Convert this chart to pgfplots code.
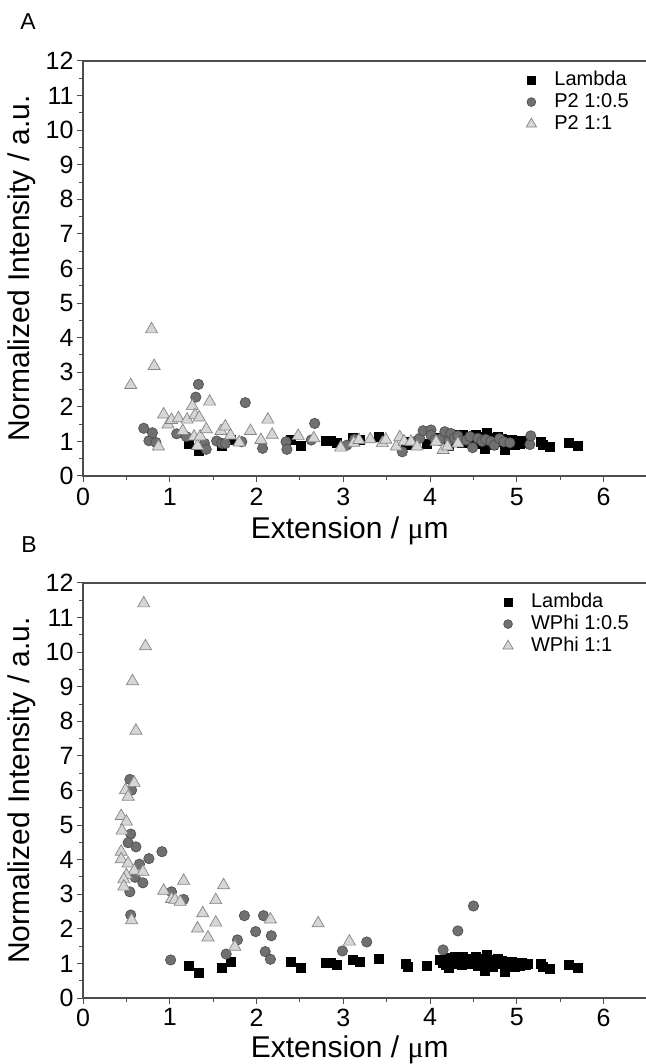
\documentclass[border=0pt]{standalone}
\usepackage{fontspec}
\setmainfont{Liberation Sans}
\newfontfamily\symfont{Liberation Serif}
\usepackage{pgfplots}
\pgfplotsset{compat=1.18}

\definecolor{axgray}{HTML}{4D4D4D}
\definecolor{circfill}{HTML}{707070}
\definecolor{circdraw}{HTML}{4A4A4A}
\definecolor{trifill}{HTML}{D6D6D6}
\definecolor{tridraw}{HTML}{858585}

\pgfplotsset{
  panel/.style={
    scale only axis, width=564pt, height=415pt,
    xmin=0, xmax=6.5, ymin=0, ymax=12,
    xtick={0,...,6}, ytick={0,...,12},
    minor x tick num=1, minor y tick num=1,
    tick align=outside, xtick pos=bottom, ytick pos=left,
    major tick length=6pt, minor tick length=4pt,
    axis line style={axgray, line width=1.1pt},
    every tick/.style={axgray, line width=1pt},
    /pgf/number format/assume math mode=true,
    tick label style={font=\fontsize{25}{29}\selectfont, text=black},
    xticklabel style={yshift=-5pt, inner sep=1pt},
    every axis x label/.style={at={(axis description cs:0.473,0)},
      yshift=-55pt, anchor=center, inner sep=0pt,
      font=\fontsize{30}{34}\selectfont},
    every axis y label/.style={at={(axis description cs:0,0.5)},
      xshift=-61pt, rotate=90, anchor=center, font=\fontsize{30}{34}\selectfont},
    xlabel={Extension / {\symfont μ}m},
    ylabel={Normalized Intensity / a.u.},
    legend style={at={(axis description cs:0.970,0.981)}, anchor=north east,
      draw=none, fill=none, inner sep=0pt, row sep=0pt,
      font=\fontsize{20}{24}\selectfont,
      nodes={inner sep=1pt, text height=15pt, text depth=5pt}},
    legend cell align=left,
    legend image code/.code={
      \path[draw=none, fill=none] (0pt,-5pt) rectangle (30pt,5pt);
      \draw[##1, every mark/.append style={scale=0.85}]
        plot coordinates {(8pt,0pt)};},
  },
  lam/.style={only marks, mark=square*, mark size=4.5pt,
    mark options={fill=black, draw=black, line width=0.4pt}},
  cir/.style={only marks, mark=*, mark size=5.2pt,
    mark options={fill=circfill, draw=circdraw, line width=0.6pt}},
  tri/.style={only marks, mark=triangle*, mark size=7pt,
    mark options={fill=trifill, draw=tridraw, line width=0.7pt}},
}

% Lambda data, same in both panels
\pgfplotstableread{
x y
1.22 0.92
1.33 0.72
1.60 0.89
1.70 1.04
2.39 1.05
2.51 0.89
2.80 1.02
2.86 1.03
2.92 0.97
3.11 1.10
3.19 1.06
3.41 1.13
3.72 0.98
3.74 0.91
3.96 0.93
4.11 1.10
4.14 1.02
4.18 0.96
4.20 1.17
4.22 0.88
4.25 1.08
4.28 1.20
4.30 1.00
4.33 1.12
4.36 0.95
4.38 1.18
4.41 1.05
4.44 1.15
4.47 0.98
4.50 1.10
4.52 1.20
4.55 0.92
4.58 1.05
4.60 1.14
4.63 0.80
4.65 1.25
4.67 1.00
4.70 1.10
4.72 0.90
4.75 1.05
4.78 1.15
4.80 0.98
4.83 1.08
4.86 0.76
4.88 1.02
4.91 0.95
4.94 1.05
4.97 0.90
5.00 1.00
5.03 0.93
5.06 1.02
5.10 0.95
5.13 0.98
5.27 0.98
5.30 0.90
5.38 0.86
5.60 0.97
5.70 0.88
}\lambdadata

\pgfplotstableread{
x y
0.70 1.38
0.76 1.02
0.80 1.25
0.84 0.97
1.08 1.22
1.19 1.14
1.30 2.28
1.33 2.65
1.40 0.94
1.42 0.77
1.54 1.01
1.60 0.94
1.64 0.94
1.83 0.99
1.87 2.12
2.07 0.80
2.34 0.99
2.35 0.77
2.63 1.04
2.67 1.52
3.04 0.89
3.13 1.06
3.68 0.70
3.82 0.99
3.88 1.09
3.92 1.31
4.01 1.33
4.01 1.18
4.06 1.05
4.13 1.09
4.17 1.28
4.22 1.04
4.24 1.23
4.28 1.10
4.32 1.16
4.36 1.02
4.42 1.04
4.46 1.14
4.49 0.82
4.55 1.09
4.60 1.00
4.64 1.06
4.70 1.00
4.74 0.89
4.80 1.08
4.85 0.99
4.92 0.96
5.15 0.91
5.16 1.16
}\ptwohalf

\pgfplotstableread{
x y
0.55 2.63
0.79 4.24
0.82 3.18
0.87 0.85
0.93 1.78
0.98 1.49
1.02 1.62
1.10 1.67
1.15 1.30
1.20 1.63
1.26 2.02
1.28 1.14
1.29 1.76
1.32 0.87
1.34 1.69
1.35 1.14
1.42 1.35
1.46 2.15
1.59 1.30
1.64 1.43
1.70 1.17
1.80 0.97
1.93 1.30
2.05 1.04
2.13 1.63
2.18 1.19
2.48 1.16
2.66 1.09
2.97 0.82
3.12 0.96
3.18 1.04
3.31 1.06
3.45 0.95
3.49 1.05
3.61 0.85
3.65 1.12
3.70 1.00
3.78 0.99
3.85 0.85
4.07 0.99
4.15 0.75
4.20 0.85
4.32 0.94
}\ptwoone

\pgfplotstableread{
x y
0.54 6.32
0.56 6.01
0.55 4.74
0.52 4.49
0.61 4.37
0.65 3.87
0.76 4.03
0.91 4.23
0.60 3.49
0.69 3.33
0.54 3.07
0.55 2.40
1.02 3.07
1.16 2.85
1.01 1.10
1.65 1.27
1.78 1.68
1.86 2.38
1.99 1.92
2.08 2.38
2.10 1.34
2.16 1.12
2.17 1.80
2.99 1.36
3.27 1.62
4.15 1.39
4.32 1.94
4.50 2.66
}\wphihalf

\pgfplotstableread{
x y
0.70 11.41
0.72 10.17
0.57 9.16
0.61 7.73
0.59 6.22
0.49 6.01
0.52 5.82
0.44 5.26
0.50 5.10
0.45 4.84
0.44 4.23
0.44 4.01
0.52 3.89
0.59 3.68
0.69 3.65
0.50 3.55
0.47 3.43
0.47 3.22
0.56 2.25
0.93 3.10
1.02 2.86
1.06 2.84
1.12 2.78
1.16 3.39
1.62 3.26
1.53 2.83
1.38 2.45
1.32 2.01
1.53 2.18
1.44 1.75
1.75 1.48
2.16 2.27
2.71 2.16
3.07 1.63
}\wphione

\begin{document}
\begin{tikzpicture}
\useasboundingbox (0,0) rectangle (645pt,1064pt);

% ---- panel A ----
\node[font=\fontsize{23}{26}\selectfont] at (28pt,1042pt) {A};
\begin{axis}[panel, at={(83pt,588pt)}, anchor=south west]
  \addplot[lam] table {\lambdadata};
  \addlegendentry{Lambda}
  \addplot[cir] table {\ptwohalf};
  \addlegendentry{P2 1:0.5}
  \addplot[tri] table {\ptwoone};
  \addlegendentry{P2 1:1}
\end{axis}

% ---- panel B ----
\node[font=\fontsize{23}{26}\selectfont] at (29pt,519pt) {B};
\begin{axis}[panel, at={(83pt,66pt)}, anchor=south west,
    xticklabel style={yshift=1.5pt},
    every axis x label/.append style={yshift=3pt}]
  \addplot[lam] table {\lambdadata};
  \addlegendentry{Lambda}
  \addplot[cir] table {\wphihalf};
  \addlegendentry{WPhi 1:0.5}
  \addplot[tri] table {\wphione};
  \addlegendentry{WPhi 1:1}
\end{axis}
\end{tikzpicture}
\end{document}
